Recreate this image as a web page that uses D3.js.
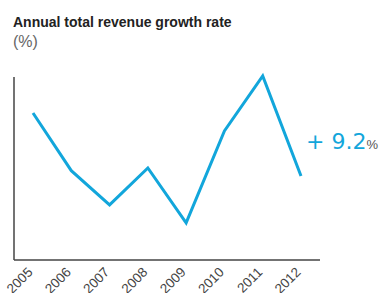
<!DOCTYPE html>
<html>
<head>
<meta charset="utf-8">
<script src="https://cdn.jsdelivr.net/npm/d3@7"></script>
<style>
  body { margin: 0; background: #fff; }
  text { font-family: "Liberation Sans", Arial, sans-serif; }
</style>
</head>
<body>
<div id="chart"></div>
<script>
const width = 379;
const height = 293;

// data
const years = ["2005", "2006", "2007", "2008", "2009", "2010", "2011", "2012"];
const growth = [16.2, 9.8, 6.0, 10.1, 4.0, 14.2, 20.3, 9.2];
const lastLabel = "+ 9.2";

let svg = d3.select("#chart").append("svg")
    .attr("width", width)
    .attr("height", height);

svg.append("text")
    .attr("x", 13)
    .attr("y", 27)
    .style("font-size", "14px")
    .style("font-weight", "bold")
    .attr("fill", "#222")
    .text("Annual total revenue growth rate");

svg.append("text")
    .attr("x", 13)
    .attr("y", 47)
    .style("font-size", "16px")
    .attr("fill", "#666")
    .text("(%)");

let xScale = d3.scalePoint()
    .domain(years)
    .range([33, 301]);

let yScale = d3.scaleLinear()
    .domain([0, 20.3])
    .range([259, 76]);

// axis lines
svg.append("line")
    .attr("x1", 14).attr("x2", 14)
    .attr("y1", 77).attr("y2", 260)
    .attr("stroke", "#444")
    .attr("stroke-width", 1.5);

svg.append("line")
    .attr("x1", 14).attr("x2", 320)
    .attr("y1", 260).attr("y2", 260)
    .attr("stroke", "#444")
    .attr("stroke-width", 1.5);

let xAxis = svg.append("g")
    .attr("transform", "translate(0,260)")
    .call(d3.axisBottom(xScale).tickSize(0));

xAxis.select(".domain").remove();
xAxis.selectAll("text")
    .attr("y", 0)
    .attr("dy", 0)
    .attr("text-anchor", "end")
    .attr("transform", "translate(0,13) rotate(-45)")
    .style("font-size", "13.5px")
    .style("font-family", "'Liberation Sans', Arial, sans-serif")
    .attr("fill", "#444");

let line = d3.line()
    .x((d, i) => xScale(years[i]))
    .y(d => yScale(d));

svg.append("path")
    .datum(growth)
    .attr("d", line)
    .attr("fill", "none")
    .attr("stroke", "#12a6db")
    .attr("stroke-width", 3)
    .attr("stroke-linejoin", "miter");

let lbl = svg.append("text")
    .attr("x", 306)
    .attr("y", 149)
    .attr("fill", "#12a6db")
    .style("font-family", "'DejaVu Sans', sans-serif")
    .style("font-size", "22px");
lbl.append("tspan").text(lastLabel);
lbl.append("tspan")
    .attr("fill", "#555")
    .style("font-family", "'Liberation Sans', Arial, sans-serif")
    .style("font-size", "13px")
    .text("%");
</script>
</body>
</html>
